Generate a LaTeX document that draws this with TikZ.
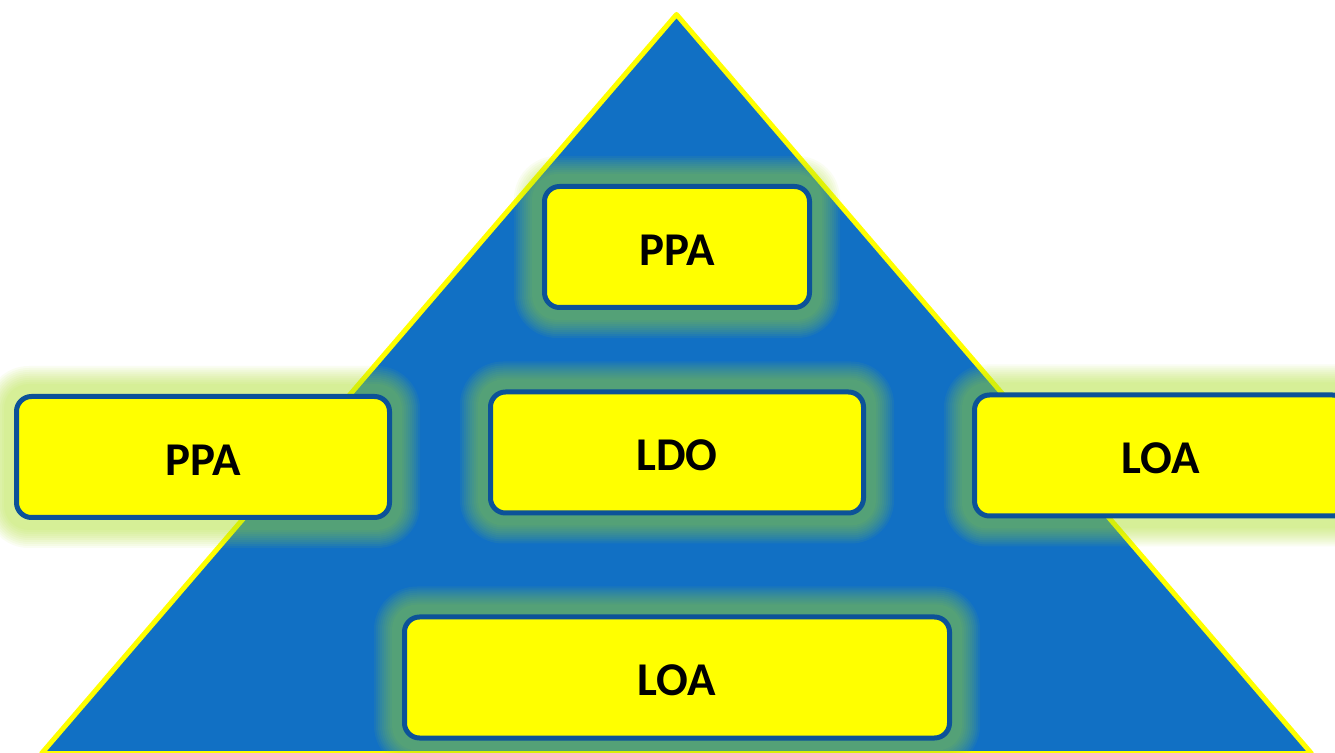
\documentclass[tikz,border=0pt]{standalone}
\usepackage{fontspec}
\setmainfont{Carlito}
\usetikzlibrary{calc}
\definecolor{triblue}{RGB}{17,112,196}
\definecolor{boxblue}{RGB}{12,82,152}
\definecolor{glowc}{RGB}{172,226,34}
\definecolor{boxyellow}{RGB}{255,255,0}
\pgfdeclarelayer{bg}
\pgfdeclarelayer{glowlayer}
\pgfsetlayers{bg,glowlayer,main}
\tikzset{
  labelbox/.style={draw=boxblue, line width=5pt, fill=boxyellow, rounded corners=15pt,
    inner sep=0pt, minimum height=121pt,
    font=\bfseries\fontsize{47}{50}\selectfont, text=black},
  pyramid/.style={fill=triblue, draw=boxyellow, line width=5pt, line join=round},
}
\newcommand{\lowtext}[1]{\raisebox{-3pt}[\height][\depth]{#1}}
\newcommand{\glowaround}[1]{%
  \foreach \i in {0,...,9}{%
    \pgfmathsetmacro{\dd}{10+2*\i}%
    \pgfmathsetmacro{\rr}{25+2*\i}%
    \fill[glowc, fill opacity=0.06, rounded corners=\rr pt]
      ($(#1.south west)+(-\dd,-\dd)$) rectangle ($(#1.north east)+(\dd,\dd)$);
  }%
}
\begin{document}
\begin{tikzpicture}[x=1pt,y=1pt]
\useasboundingbox (0,0) rectangle (1335,752);
\clip (0,0) rectangle (1335,752);
\begin{pgfonlayer}{bg}
  \fill[white] (0,0) rectangle (1335,752);
  \coordinate (apex) at (676.5,737.5);
  \coordinate (bl) at (41.5,-1.5);
  \coordinate (br) at (1311.5,-1.5);
  \draw[pyramid] (apex) -- (br) -- (bl) -- cycle;
\end{pgfonlayer}

\node[labelbox, minimum width=265pt] (ppatop) at (677,505) {\lowtext{PPA}};
\node[labelbox, minimum width=373pt] (ldo) at (677,299.5) {\lowtext{LDO}};
\node[labelbox, minimum width=373pt] (ppaleft) at (203,295) {\lowtext{PPA}};
\node[labelbox, minimum width=373pt] (loaright) at (1161,296.5) {\lowtext{LOA}};
\node[labelbox, minimum width=545pt] (loabottom) at (677,74.5) {\lowtext{LOA}};

\begin{pgfonlayer}{glowlayer}
  \glowaround{ppatop}
  \glowaround{ldo}
  \glowaround{ppaleft}
  \glowaround{loaright}
  \glowaround{loabottom}
\end{pgfonlayer}
\end{tikzpicture}
\end{document}
